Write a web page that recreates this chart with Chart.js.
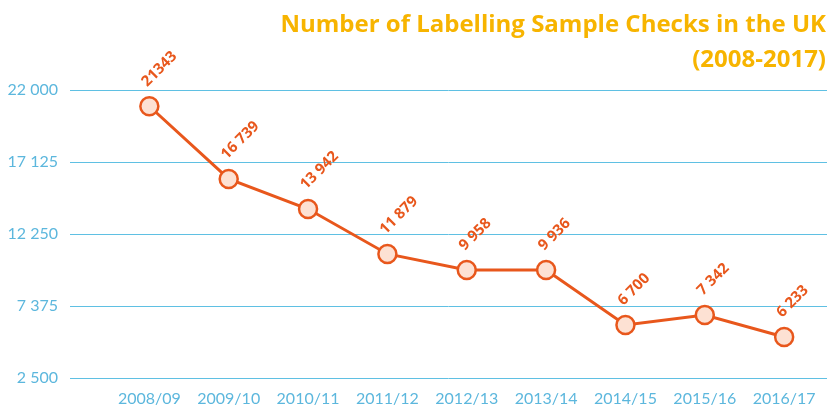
<!DOCTYPE html>
<html>
<head>
<meta charset="utf-8">
<script src="https://cdn.jsdelivr.net/npm/chart.js@4/dist/chart.umd.min.js"></script>
<style>
  html, body { margin: 0; padding: 0; background: #ffffff; }
  #wrap { width: 827px; height: 407px; }
</style>
</head>
<body>
<div id="wrap"><canvas id="c" width="827" height="407"></canvas></div>
<script>
// ---- data ----
const categories = ['2008/09', '2009/10', '2010/11', '2011/12', '2012/13', '2013/14', '2014/15', '2015/16', '2016/17'];
// plotted values as read against the y axis of the picture
const plottedValues = [20900, 15980, 13940, 10900, 9810, 9810, 6090, 6770, 5280];
// value labels as printed in the picture
const valueLabels = ['21343', '16 739', '13 942', '11 879', '9 958', '9 936', '6 700', '7 342', '6 233'];
const yTickValues = [2500, 7375, 12250, 17125, 22000];
const yTickLabels = ['2 500', '7 375', '12 250', '17 125', '22 000'];
const titleLines = ['Number of Labelling Sample Checks in the UK', '(2008-2017)'];

const LINE = '#E8571C';
const FILL = '#FDE1D3';
const BLUE = '#5FC0E3';
const TICK = '#5CB7DD';
const TITLE = '#F7B400';

const points = plottedValues.map((v, i) => ({ x: i, y: v }));

const titlePlugin = {
  id: 'titleText',
  afterDraw(chart) {
    const ctx = chart.ctx;
    ctx.save();
    ctx.fillStyle = TITLE;
    ctx.font = 'bold 24px "Open Sans", Lato, sans-serif';
    ctx.textAlign = 'right';
    ctx.textBaseline = 'alphabetic';
    ctx.fillText(titleLines[0], 826, 32);
    ctx.fillText(titleLines[1], 826, 67);
    ctx.restore();
  }
};

const labelPlugin = {
  id: 'valueLabels',
  afterDatasetsDraw(chart) {
    const ctx = chart.ctx;
    const meta = chart.getDatasetMeta(0);
    ctx.save();
    ctx.fillStyle = LINE;
    ctx.font = 'bold 15px "Open Sans", Lato, sans-serif';
    ctx.textAlign = 'left';
    ctx.textBaseline = 'alphabetic';
    meta.data.forEach((el, i) => {
      ctx.save();
      ctx.translate(el.x - 2, el.y - 19);
      ctx.rotate(-Math.PI / 4);
      ctx.fillText(valueLabels[i], 0, 0);
      ctx.restore();
    });
    ctx.restore();
  }
};

new Chart(document.getElementById('c'), {
  type: 'line',
  data: {
    datasets: [{
      data: points,
      borderColor: LINE,
      borderWidth: 3,
      backgroundColor: FILL,
      pointBackgroundColor: FILL,
      pointBorderColor: LINE,
      pointBorderWidth: 2.5,
      pointRadius: 9,
      pointHoverRadius: 9,
      tension: 0,
      fill: false,
      clip: false
    }]
  },
  options: {
    responsive: false,
    animation: false,
    devicePixelRatio: 1,
    layout: { autoPadding: false, padding: { top: 90, right: 0, left: 0, bottom: 0 } },
    plugins: { legend: { display: false }, tooltip: { enabled: false }, title: { display: false } },
    scales: {
      x: {
        type: 'linear',
        min: -1,
        max: 8.54,
        afterBuildTicks(scale) {
          scale.ticks = categories.map((c, i) => ({ value: i }));
        },
        afterFit(scale) { scale.height = 29; scale.paddingLeft = 0; scale.paddingRight = 0; },
        grid: { display: false, drawTicks: false },
        border: { display: false },
        ticks: {
          color: TICK,
          font: { family: 'Lato, "Open Sans", sans-serif', size: 16 },
          padding: 11,
          maxRotation: 0,
          autoSkip: false,
          callback: (v) => categories[v]
        }
      },
      y: {
        min: 2500,
        max: 22000,
        afterBuildTicks(scale) {
          scale.ticks = yTickValues.map(v => ({ value: v }));
        },
        afterFit(scale) { scale.width = 70; scale.paddingTop = 0; scale.paddingBottom = 0; },
        grid: { color: BLUE, lineWidth: 1, drawTicks: false },
        border: { display: false },
        ticks: {
          color: TICK,
          font: { family: 'Lato, "Open Sans", sans-serif', size: 16 },
          padding: 12,
          callback: (v) => yTickLabels[yTickValues.indexOf(v)]
        }
      }
    }
  },
  plugins: [titlePlugin, labelPlugin]
});
</script>
</body>
</html>
